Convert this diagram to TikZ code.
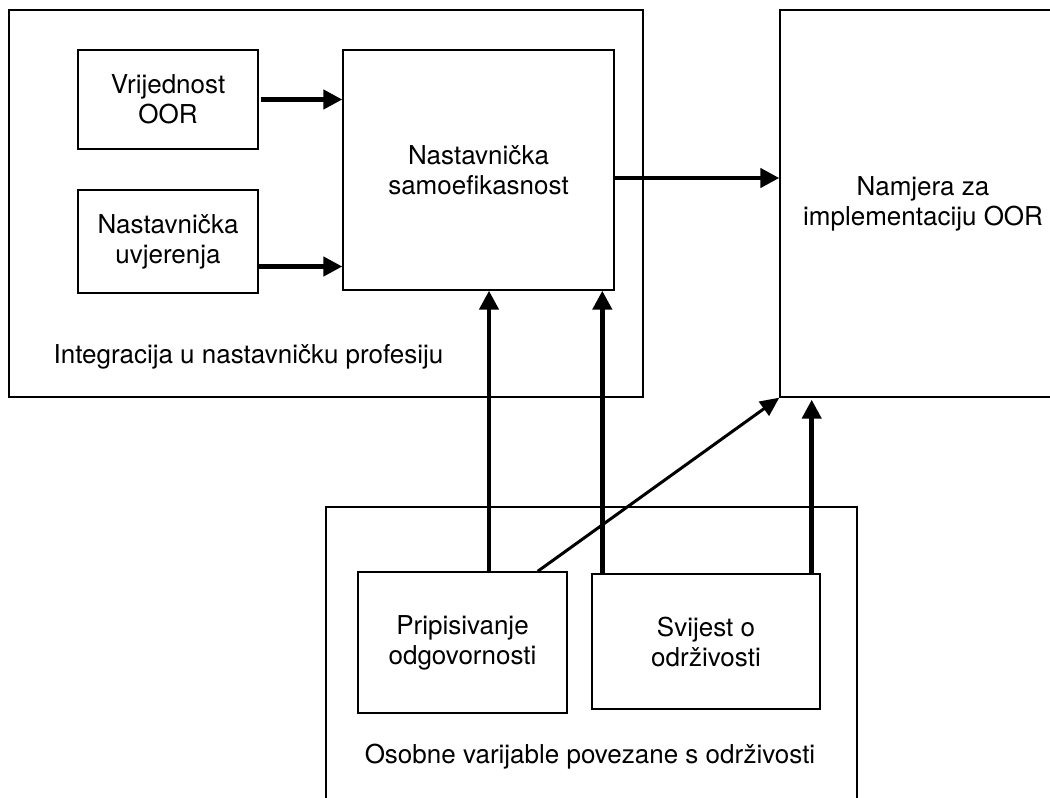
\documentclass[tikz,border=0pt]{standalone}
\usepackage{fontspec}
\setmainfont{TeX Gyre Heros}
\usetikzlibrary{arrows.meta}
\tikzset{
  box/.style={draw, line width=1.4pt, align=center, inner sep=0pt},
  group/.style={draw, line width=1.4pt, inner sep=0pt},
  arr/.style={line width=4.5pt, -{Triangle[length=19pt,width=19pt]}},
  thinarr/.style={line width=3pt, -{Triangle[length=19pt,width=17pt]}}
}
\begin{document}
\begin{tikzpicture}[x=1pt,y=-1pt,font=\fontsize{26}{30}\selectfont]
\useasboundingbox[fill=white] (0,0) rectangle (1050,798);
% groups
\path (326,203.5) node[group, minimum width=634pt, minimum height=387pt] (integ){};
\path (591.5,667) node[group, minimum width=531pt, minimum height=320pt] (osob){};
\path (248.5,357) node (integlbl){Integracija u nastavničku profesiju};
\path (590,757) node (osoblbl){Osobne varijable povezane s održivosti};

% boxes
\path (168,99.5) node[box, minimum width=180pt, minimum height=99pt] (vrij){Vrijednost\\OOR};
\path (168,241.5) node[box, minimum width=180pt, minimum height=103pt] (uvj){Nastavnička\\uvjerenja};
\path (478.5,170) node[box, minimum width=271pt, minimum height=240pt] (samo){Nastavnička\\samoefikasnost};
\path (923,203.5) node[box, minimum width=286pt, minimum height=387pt] (namj){Namjera za\\implementaciju OOR};
\path (462.5,642.5) node[box, minimum width=209pt, minimum height=141pt] (prip){Pripisivanje\\odgovornosti};
\path (706,641.5) node[box, minimum width=228pt, minimum height=135pt] (svij){Svijest o\\održivosti};

% arrows
\draw[arr] ([xshift=2pt]vrij.east) -- (vrij.east -| samo.west);
\draw[arr] ([yshift=-25pt]uvj.east) -- ([yshift=-25pt]uvj.east -| samo.west);
\draw[arr] ([yshift=-8pt]samo.east) -- ([yshift=-8pt]samo.east -| namj.west);
\draw[arr] ([xshift=26.5pt]prip.north) -- ([xshift=26.5pt]prip.north |- samo.south);
\draw[arr] ([xshift=11pt]svij.north west) -- ([xshift=11pt]svij.north west |- samo.south);
\draw[thinarr] ([xshift=-30pt]prip.north east) -- (namj.south west);
\draw[arr, shorten >=2pt] ([xshift=-9pt]svij.north east) -- ([xshift=-9pt]svij.north east |- namj.south);
\end{tikzpicture}
\end{document}
